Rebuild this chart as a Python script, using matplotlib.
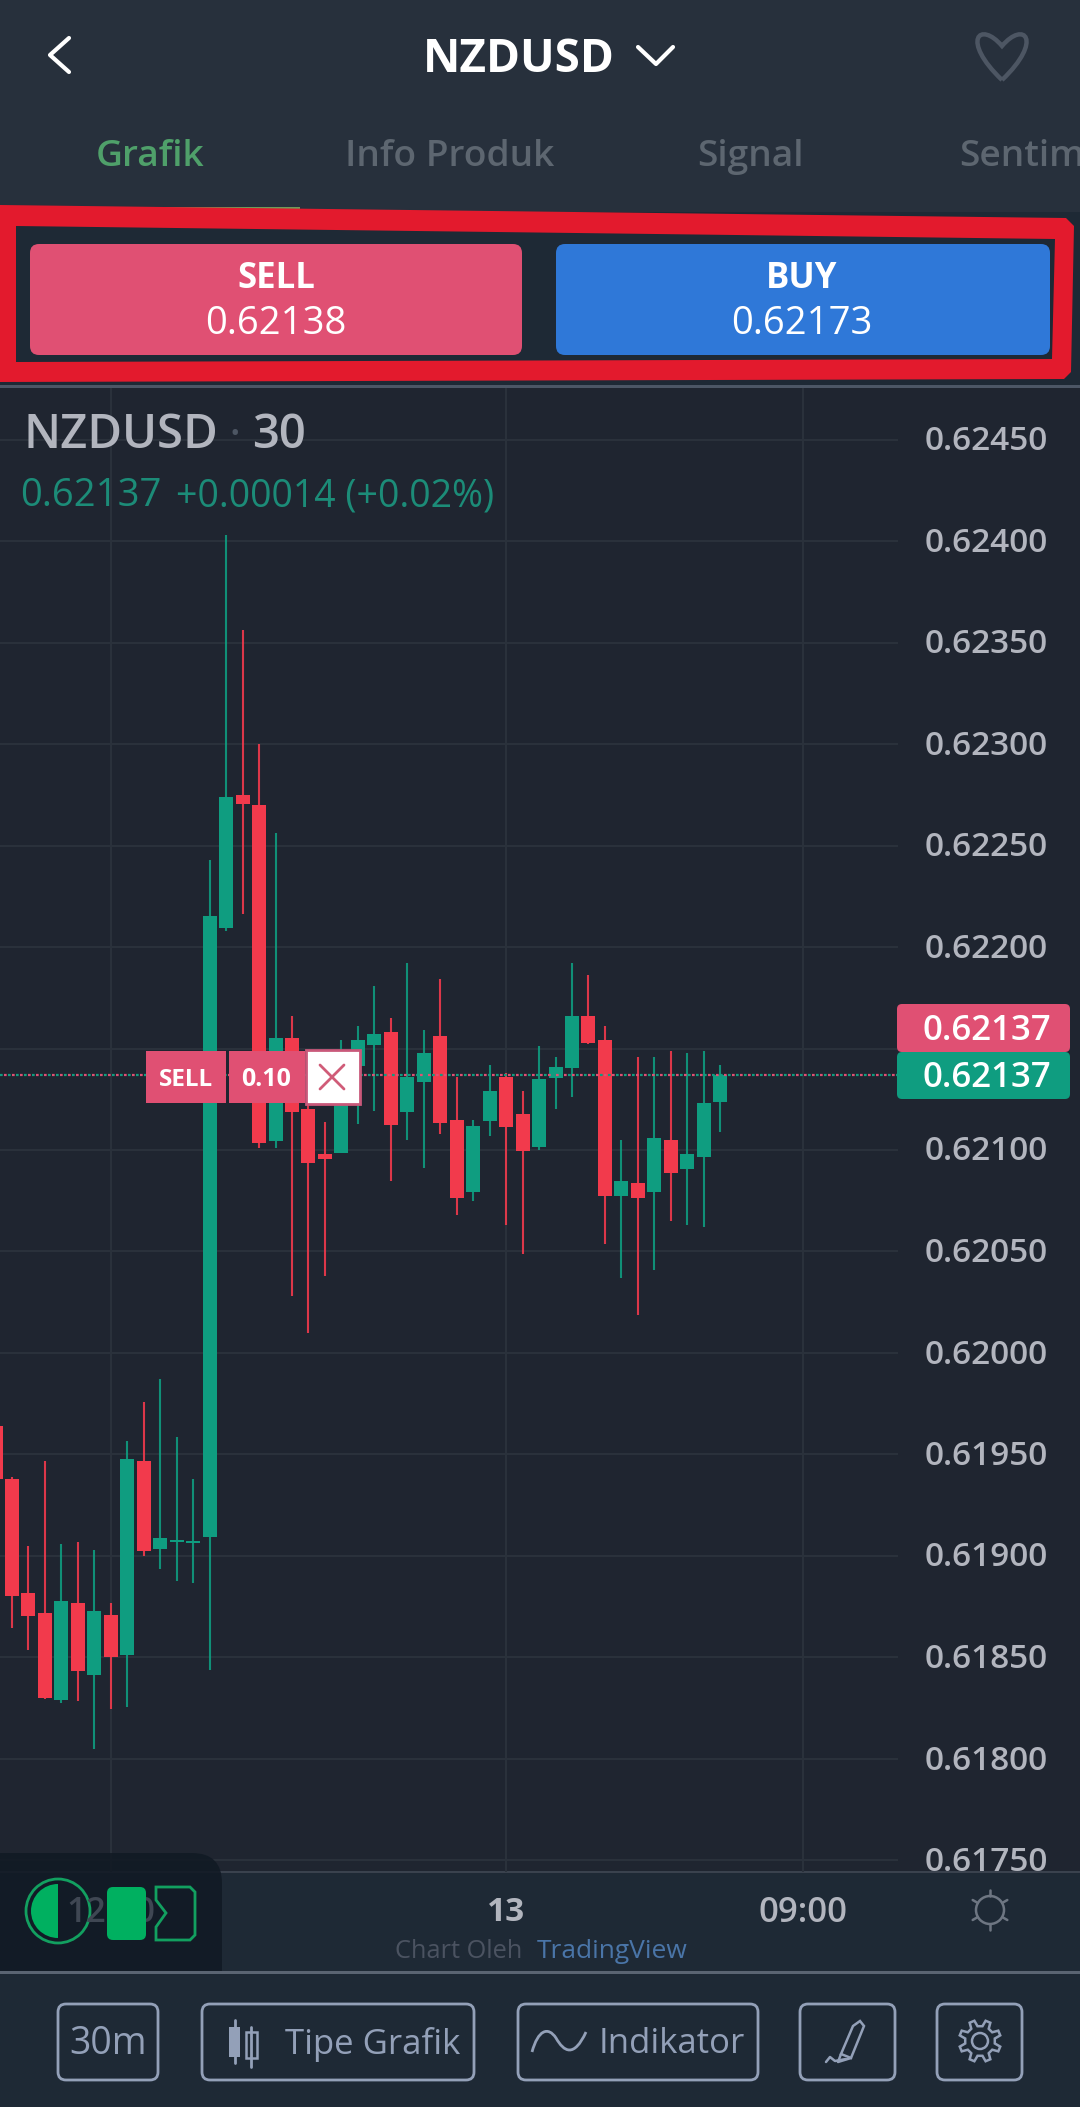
import numpy as np
import matplotlib
matplotlib.use('Agg')
import matplotlib.pyplot as plt
from matplotlib.patches import FancyBboxPatch, Polygon, PathPatch, Circle, Wedge, Rectangle
from matplotlib.path import Path
from matplotlib.transforms import ScaledTranslation

plt.rcParams['font.family'] = ['Open Sans', 'DejaVu Sans']

# candle data, in 1e-5 price units, left to right
opens = [61964.0, 61938.1, 61881.8, 61871.9, 61829.1, 61876.9, 61841.4, 61870.9, 61851.2, 61946.8,
         61903.5, 61907.1, 61906.2, 61909.4, 62209.4, 62274.9, 62269.9, 62104.4, 62155.2, 62120.2,
         62098.0, 62098.5, 62141.4, 62151.7, 62158.1, 62118.7, 62133.5, 62156.2, 62114.8, 62079.3,
         62114.3, 62136.0, 62117.7, 62101.5, 62135.5, 62140.4, 62166.0, 62154.2, 62077.3, 62083.7,
         62079.3, 62104.9, 62090.6, 62096.6, 62123.6]
highs = [61964.0, 61938.9, 61904.9, 61946.8, 61905.9, 61906.9, 61903.0, 61876.9, 61956.7, 61975.9,
         61987.2, 61958.6, 61937.9, 62242.9, 62403.0, 62356.2, 62300.0, 62256.2, 62166.0, 62132.0,
         62113.8, 62154.2, 62161.1, 62180.8, 62165.0, 62192.1, 62159.1, 62184.2, 62136.0, 62114.8,
         62141.9, 62137.9, 62129.1, 62151.2, 62145.8, 62192.1, 62186.2, 62161.1, 62104.9, 62145.8,
         62145.8, 62148.8, 62147.8, 62148.8, 62141.9]
lows = [61937.9, 61864.5, 61853.7, 61829.6, 61827.6, 61828.6, 61804.9, 61824.6, 61825.6, 61900.0,
        61893.6, 61887.7, 61886.7, 61843.8, 62207.9, 62216.3, 62101.0, 62101.0, 62028.1, 62009.9,
        62037.9, 62098.5, 62112.8, 62119.2, 62084.7, 62104.9, 62091.1, 62107.9, 62068.0, 62074.9,
        62106.9, 62063.1, 62048.8, 62100.0, 62120.2, 62126.1, 62152.2, 62053.7, 62036.9, 62018.7,
        62040.9, 62065.0, 62063.1, 62062.1, 62108.9]
closes = [61937.9, 61880.3, 61870.4, 61830.1, 61877.8, 61843.4, 61872.9, 61850.2, 61947.8, 61902.5,
          61908.9, 61908.1, 61907.4, 62215.3, 62273.9, 62270.4, 62103.4, 62155.2, 62118.7, 62093.6,
          62095.6, 62136.9, 62154.2, 62157.1, 62112.3, 62136.0, 62147.8, 62113.3, 62076.4, 62111.8,
          62129.1, 62111.3, 62099.5, 62135.0, 62140.9, 62166.0, 62152.7, 62077.3, 62084.7, 62076.4,
          62105.9, 62088.7, 62098.0, 62123.2, 62136.9]
first_bar = -1
last_price = 0.62137
price_ticks = [0.62450, 0.62400, 0.62350, 0.62300, 0.62250, 0.62200, 0.62150, 0.62100,
               0.62050, 0.62000, 0.61950, 0.61900, 0.61850, 0.61800, 0.61750]
time_bars = [6, 30, 48]
time_labels = ['12:00', '13', '09:00']
sell_price = '0.62138'
buy_price = '0.62173'

W, H = 1080, 2107
UP = '#0f9d80'
DOWN = '#f23a4c'
PINK = '#e05073'
CHART_BG = '#1f2530'
HEAD_BG = '#27303c'
PANEL_BG = '#1e2935'
GRID = '#2a313b'
LABEL = '#b2b5be'
BTN = '#93a0b8'

fig = plt.figure(figsize=(W / 100, H / 100), dpi=100, facecolor=PANEL_BG)


def px_axes(zorder):
    a = fig.add_axes([0, 0, 1, 1], zorder=zorder)
    a.set_xlim(0, W)
    a.set_ylim(H, 0)
    a.axis('off')
    a.patch.set_alpha(0)
    return a


def rrect(a, x0, y0, x1, y1, r, fc='none', ec='none', lw=0, **kw):
    p = FancyBboxPatch((x0 + r, y0 + r), x1 - x0 - 2 * r, y1 - y0 - 2 * r,
                       boxstyle='round,pad=%f,rounding_size=%f' % (r, r),
                       fc=fc, ec=ec, lw=lw, **kw)
    a.add_patch(p)
    return p


def stroke(a, xs, ys, color, lw, **kw):
    a.plot(xs, ys, color=color, lw=lw, solid_capstyle='round', solid_joinstyle='round', **kw)


bg = px_axes(0)
top = px_axes(5)

# header and chart backgrounds
bg.add_patch(Rectangle((0, 0), W, 212, fc=HEAD_BG, ec='none'))
bg.add_patch(Rectangle((0, 212), W, 175, fc=PANEL_BG, ec='none'))
bg.add_patch(Rectangle((0, 388), W, 1484, fc=CHART_BG, ec='none'))
bg.add_patch(Rectangle((0, 1872), W, 100, fc=PANEL_BG, ec='none'))
bg.add_patch(Rectangle((0, 385), W, 3, fc='#4c5665', ec='none'))
bg.add_patch(Rectangle((0, 1871), W, 2, fc='#3a424e', ec='none'))
bg.add_patch(Rectangle((0, 1971), W, 3, fc='#5a6472', ec='none'))
bg.add_patch(Rectangle((0, 207), 300, 3, fc='#6f9a58', ec='none'))

# chart
ax = fig.add_axes([0, (H - 1872) / H, 898 / W, 1484 / H], zorder=2)
ax.patch.set_alpha(0)
x0_px, bar_px = 12.0, 16.47
ax.set_xlim(-x0_px / bar_px, (898 - x0_px) / bar_px)
ax.set_ylim(0.621 - 722 * 0.0005 / 101.5, 0.621 + 762 * 0.0005 / 101.5)
for s in ax.spines.values():
    s.set_visible(False)

o = np.array(opens) / 1e5
h = np.array(highs) / 1e5
l = np.array(lows) / 1e5
c = np.array(closes) / 1e5
bars = np.arange(len(o)) + first_bar
colors = [UP if cc > oo else DOWN for oo, cc in zip(o, c)]
ax.vlines(bars, l, h, colors=colors, lw=1.5, alpha=0.9, zorder=3)
ax.bar(bars, np.abs(c - o), bottom=np.minimum(o, c), width=0.85, color=colors, lw=0, zorder=4)

ax.axhline(last_price, color=UP, lw=1.6, ls=(0, (1.2, 2.4)), zorder=5)
ax.axhline(last_price, color=PINK, lw=1.6, ls=(1.8, (1.2, 2.4)), zorder=5)

# the tick next to the last price sits behind the price tags
ax.set_yticks(price_ticks)
ax.set_yticklabels(['' if abs(p - last_price) < 0.00015 else '%.5f' % p for p in price_ticks],
                   fontsize=24, fontweight='semibold', color=LABEL)
ax.yaxis.tick_right()
ax.set_xticks(time_bars)
ax.set_xticklabels([''] + time_labels[1:], fontsize=25, fontweight='semibold', color=LABEL)
ax.get_xticklabels()[1].set_fontweight('bold')
ax.get_xticklabels()[1].set_fontsize(24)
ax.tick_params(axis='y', length=0, pad=19)
ax.tick_params(axis='x', length=0, pad=17)
ax.grid(True, color=GRID, lw=1.5, zorder=0)
ax.set_axisbelow(True)
for lbl in ax.get_yticklabels():
    lbl.set_transform(lbl.get_transform() + ScaledTranslation(0, 2 / 100, fig.dpi_scale_trans))

# price tags at right edge
rrect(top, 897, 1004, 1070, 1052, 5, fc=PINK)
rrect(top, 897, 1052, 1070, 1099, 5, fc=UP)
top.text(987, 1031, '0.62137', color='white', fontsize=25, fontweight='semibold', ha='center', va='center')
top.text(987, 1078, '0.62137', color='white', fontsize=25, fontweight='semibold', ha='center', va='center')

# order widget
top.add_patch(Rectangle((146, 1051), 80, 52, fc=PINK, ec='none'))
top.add_patch(Rectangle((229, 1051), 76, 52, fc=PINK, ec='none'))
top.add_patch(Rectangle((306, 1050), 54, 54, fc='white', ec='#c9587a', lw=2))
top.text(186, 1080, 'SELL', color='white', fontsize=17.5, fontweight='bold', ha='center', va='center')
top.text(266, 1080, '0.10', color='white', fontsize=18, fontweight='bold', ha='center', va='center')
stroke(top, [320, 344], [1065, 1089], '#d05c78', 2)
stroke(top, [320, 344], [1089, 1065], '#d05c78', 2)

# header
stroke(top, [69, 50, 69], [38, 55, 72], 'white', 3)
top.text(519, 59, 'NZDUSD', color='white', fontsize=33, fontweight='bold', ha='center', va='center')
stroke(top, [638, 656, 673], [47, 64, 47], 'white', 3)
heart = Path([(1002, 80), (960, 40), (980, 20), (1002, 46), (1024, 20), (1044, 40), (1002, 80)],
             [Path.MOVETO, Path.CURVE4, Path.CURVE4, Path.CURVE4, Path.CURVE4, Path.CURVE4, Path.CURVE4])
top.add_patch(PathPatch(heart, fc='none', ec='#4d5663', lw=3.2))

tab_names = ['Grafik', 'Info Produk', 'Signal']
tab_x = [150, 450, 750]
tab_colors = ['#4fa06a', '#5d6670', '#5d6670']
for name, x, col in zip(tab_names, tab_x, tab_colors):
    top.text(x, 157, name, color=col, fontsize=26.7, fontweight='semibold', ha='center', va='center')
top.text(959, 157, 'Sentim', color='#5d6670', fontsize=26.7, fontweight='semibold', ha='left', va='center')

# red marker around the buttons
top.add_patch(Polygon([(0, 205), (1066, 218), (1074, 226), (1071, 372), (1064, 379), (0, 382)], fc='#e31a2d', ec='none'))
top.add_patch(Polygon([(16, 226), (1055, 239), (1052, 359), (16, 362)], fc=PANEL_BG, ec='none'))
rrect(top, 30, 244, 522, 355, 9, fc=PINK)
rrect(top, 556, 244, 1050, 355, 9, fc='#2f78d8')
top.text(276, 279, 'SELL', color='white', fontsize=25, fontweight='bold', ha='center', va='center')
top.text(276, 324, sell_price, color='white', fontsize=27.5, ha='center', va='center')
top.text(802, 279, 'BUY', color='white', fontsize=25, fontweight='bold', ha='center', va='center')
top.text(802, 324, buy_price, color='white', fontsize=27.5, ha='center', va='center')

# chart legend
top.text(24, 436, 'NZDUSD', color=LABEL, fontsize=34, fontweight='semibold', ha='left', va='center')
top.text(235, 436, '·', color='#4d5663', fontsize=34, ha='center', va='center')
top.text(252, 436, '30', color=LABEL, fontsize=34, fontweight='semibold', ha='left', va='center')
top.text(20, 496, '0.62137', color='#1c8c78', fontsize=27.5, ha='left', va='center')
top.text(176, 496, '+0.00014 (+0.02%)', color='#1c8c78', fontsize=27, ha='left', va='center')

# bottom-left logo panel, the first time label shows dimly through it, the green block covers its middle
panel = Path([(0, 1853), (192, 1853), (222, 1853), (222, 1883), (222, 1971), (0, 1971), (0, 1853)],
             [Path.MOVETO, Path.LINETO, Path.CURVE3, Path.CURVE3, Path.LINETO, Path.LINETO, Path.CLOSEPOLY])
top.add_patch(PathPatch(panel, fc='#111a24', ec='none', alpha=0.88))
top.add_patch(Circle((58, 1911), 32, fc='none', ec='#12a060', lw=2))
top.add_patch(Wedge((58, 1911), 27, 90, 270, fc='#00b060', ec='none'))
top.text(111, 1913, time_labels[0], color='#3f4753', fontsize=25, fontweight='semibold', ha='center', va='center', zorder=3)
rrect(top, 107, 1887, 146, 1940, 6, fc='#00b060', zorder=4)
top.add_patch(Polygon([(156, 1887), (190, 1887), (195, 1892), (195, 1935), (190, 1940), (156, 1940),
                       (156, 1927), (166, 1913), (156, 1900)], fc='none', ec='#12a060', lw=2, zorder=4))
top.text(395, 1952, 'Chart Oleh', color='#4b5361', fontsize=18.3, ha='left', va='center')
top.text(537, 1952, 'TradingView', color='#4a75a8', fontsize=19, ha='left', va='center')

# sun icon
top.add_patch(Circle((990, 1910), 14, fc='none', ec='#6e7682', lw=1.8))
for ang in np.deg2rad(np.arange(0, 360, 60) + 30):
    stroke(top, [990 + 14 * np.cos(ang), 990 + 20 * np.cos(ang)], [1910 + 14 * np.sin(ang), 1910 + 20 * np.sin(ang)], '#6e7682', 1.8)

# toolbar
btn_boxes = [(58, 158), (202, 474), (518, 758), (800, 895), (937, 1022)]
for x0, x1 in btn_boxes:
    rrect(top, x0, 2004, x1, 2080, 8, ec=BTN, lw=2)
top.text(108, 2044, '30m', color=BTN, fontsize=27, ha='center', va='center')
top.text(373, 2044, 'Tipe Grafik', color=BTN, fontsize=25, ha='center', va='center')
top.text(672, 2044, 'Indikator', color=BTN, fontsize=25, ha='center', va='center')

# candle icon
stroke(top, [234.5, 234.5], [2020, 2063], BTN, 2)
top.add_patch(Rectangle((229, 2027), 11, 30, fc=BTN, ec='none'))
stroke(top, [251, 251], [2027, 2067], BTN, 2)
top.add_patch(Rectangle((246, 2032), 11, 26, fc=PANEL_BG, ec=BTN, lw=1.8))

# wave icon
wave = Path([(532, 2052), (538, 2030), (548, 2026), (556, 2038), (564, 2052), (574, 2058), (586, 2032)],
            [Path.MOVETO, Path.CURVE4, Path.CURVE4, Path.CURVE4, Path.CURVE4, Path.CURVE4, Path.CURVE4])
top.add_patch(PathPatch(wave, fc='none', ec=BTN, lw=2))

# pen icon
top.add_patch(Polygon([(853, 2026), (860, 2021), (864, 2026), (851, 2058), (841, 2054)], fc='none', ec=BTN, lw=1.8))
stroke(top, [841, 838, 851], [2054, 2062, 2058], BTN, 1.8)
stroke(top, [826, 830, 835, 846], [2062, 2057, 2061, 2059], BTN, 1.8)

# gear icon
theta = np.deg2rad(np.arange(0, 360, 45) + 22.5)
gear_x, gear_y = [], []
for t in theta:
    for d, r in [(-13, 15), (-7, 21), (7, 21), (13, 15)]:
        a = t + np.deg2rad(d)
        gear_x.append(980 + r * np.cos(a))
        gear_y.append(2041 + r * np.sin(a))
top.add_patch(Polygon(list(zip(gear_x, gear_y)), fc='none', ec=BTN, lw=1.8))
top.add_patch(Circle((980, 2041), 8, fc='none', ec=BTN, lw=1.8))

fig.savefig('out.png', dpi=100, facecolor=fig.get_facecolor())
